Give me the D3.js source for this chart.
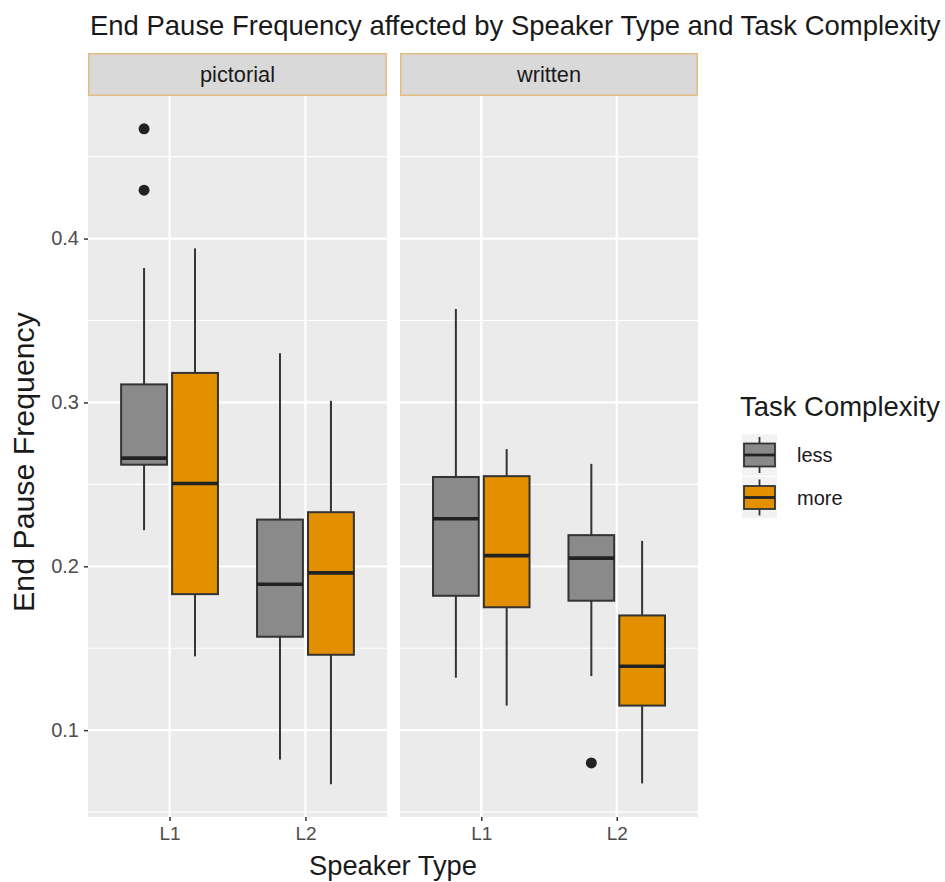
<!DOCTYPE html>
<html><head><meta charset="utf-8">
<script src="https://cdn.jsdelivr.net/npm/d3@7"></script>
<style>body{margin:0;background:#fff}svg{display:block}text{font-family:"Liberation Sans",Arial,sans-serif}</style>
</head><body><svg id="c" width="945" height="882"></svg>
<script>
// ---- data ----
const tasks = ["pictorial", "written"];
const speakers = ["L1", "L2"];
const complexity = ["less", "more"];
// groups ordered: task × speaker × complexity
const groupTask = ["pictorial","pictorial","pictorial","pictorial","written","written","written","written"];
const groupSpeaker = ["L1","L1","L2","L2","L1","L1","L2","L2"];
const groupComplexity = ["less","more","less","more","less","more","less","more"];
const whiskerLow  = [0.222, 0.145, 0.082, 0.067, 0.132, 0.115, 0.133, 0.0675];
const q1          = [0.262, 0.183, 0.157, 0.146, 0.182, 0.175, 0.179, 0.115];
const median      = [0.266, 0.2505, 0.189, 0.196, 0.229, 0.2065, 0.205, 0.139];
const q3          = [0.311, 0.318, 0.2285, 0.233, 0.2545, 0.255, 0.219, 0.170];
const whiskerHigh = [0.382, 0.394, 0.330, 0.301, 0.357, 0.2715, 0.2625, 0.2155];
const outlierGroup = [0, 0, 6];
const outlierValue = [0.467, 0.4295, 0.080];
const yTicks = [0.1, 0.2, 0.3, 0.4];
const yMinor = [0.05, 0.15, 0.25, 0.35, 0.45];

// ---- layout ----
const svg = d3.select("#c");
const panelTop = 96, panelBottom = 817, stripTop = 53;
const panelX = {pictorial: [88, 387], written: [400, 698]};
const fill = {less: "#8a8a8a", more: "#e39000"};
const y = d3.scaleLinear().domain([0.047, 0.487]).range([panelBottom, panelTop]);
const color = d3.scaleOrdinal().domain(complexity).range([fill.less, fill.more]);

function fitText(sel, w) {
  const cur = sel.node().getComputedTextLength();
  const fs = parseFloat(sel.attr("font-size"));
  sel.attr("font-size", fs * w / cur);
}

tasks.forEach(task => {
  const [x0, x1] = panelX[task];
  const x = d3.scalePoint().domain(speakers).range([x0, x1]).padding(0.6);
  const step = x.step();
  const dodge = d3.scaleBand().domain(complexity).range([-step*0.375, step*0.375]);
  const bw = step * 0.3375;
  const g = svg.append("g");
  g.append("rect").attr("x", x0).attr("y", panelTop).attr("width", x1 - x0).attr("height", panelBottom - panelTop).attr("fill", "#ebebeb");
  // strip
  g.append("rect").attr("x", x0 + 0.75).attr("y", stripTop + 0.75).attr("width", x1 - x0 - 1.5).attr("height", panelTop - stripTop - 1.5)
    .attr("fill", "#d9d9d9").attr("stroke", "#e3bd82").attr("stroke-width", 1.5);
  const st = g.append("text").attr("x", (x0 + x1) / 2).attr("y", 82).attr("text-anchor", "middle").attr("font-size", 19).attr("fill", "#1a1a1a").text(task);
  if (task === "pictorial") fitText(st, 75); else st.attr("font-size", d3.select("g text").attr("font-size"));
  // grid
  g.selectAll(".minor").data(yMinor).join("line").attr("x1", x0).attr("x2", x1).attr("y1", d => y(d)).attr("y2", d => y(d)).attr("stroke", "#fff").attr("stroke-width", 1.1);
  g.selectAll(".major").data(yTicks).join("line").attr("x1", x0).attr("x2", x1).attr("y1", d => y(d)).attr("y2", d => y(d)).attr("stroke", "#fff").attr("stroke-width", 2.2);
  g.selectAll(".vmajor").data(speakers).join("line").attr("x1", d => x(d)).attr("x2", d => x(d)).attr("y1", panelTop).attr("y2", panelBottom).attr("stroke", "#fff").attr("stroke-width", 2.2);
  // x axis
  const xa = g.append("g").attr("transform", `translate(0,${panelBottom})`).call(d3.axisBottom(x).tickSize(4).tickPadding(6));
  xa.select(".domain").remove();
  xa.selectAll("line").attr("stroke", "#333").attr("stroke-width", 1.5);
  xa.selectAll("text").attr("font-size", 19).attr("fill", "#4d4d4d").attr("font-family", "Liberation Sans, Arial, sans-serif");
  // boxes
  const idx = d3.range(groupTask.length).filter(i => groupTask[i] === task);
  idx.forEach(i => {
    const cx = x(groupSpeaker[i]) + dodge(groupComplexity[i]) + dodge.bandwidth() / 2;
    const bg = g.append("g");
    bg.append("line").attr("x1", cx).attr("x2", cx).attr("y1", y(q3[i])).attr("y2", y(whiskerHigh[i])).attr("stroke", "#333").attr("stroke-width", 2);
    bg.append("line").attr("x1", cx).attr("x2", cx).attr("y1", y(q1[i])).attr("y2", y(whiskerLow[i])).attr("stroke", "#333").attr("stroke-width", 2);
    bg.append("rect").attr("x", cx - bw / 2).attr("y", y(q3[i])).attr("width", bw).attr("height", y(q1[i]) - y(q3[i]))
      .attr("fill", color(groupComplexity[i])).attr("stroke", "#333").attr("stroke-width", 2);
    bg.append("line").attr("x1", cx - bw / 2).attr("x2", cx + bw / 2).attr("y1", y(median[i])).attr("y2", y(median[i])).attr("stroke", "#222").attr("stroke-width", 3.6);
    outlierGroup.forEach((og, k) => {
      if (og === i) bg.append("circle").attr("cx", cx).attr("cy", y(outlierValue[k])).attr("r", 5.5).attr("fill", "#222");
    });
  });
  if (task === "pictorial") {
    const ya = g.append("g").attr("transform", `translate(${x0},0)`).call(d3.axisLeft(y).tickValues(yTicks).tickFormat(d3.format(".1f")).tickSize(4).tickPadding(5));
    ya.select(".domain").remove();
    ya.selectAll("line").attr("stroke", "#333").attr("stroke-width", 1.5);
    ya.selectAll("text").attr("font-size", 20).attr("fill", "#4d4d4d").attr("font-family", "Liberation Sans, Arial, sans-serif");
  }
});

// titles
const title = svg.append("text").attr("x", 90).attr("y", 35).attr("font-size", 24).attr("fill", "#1a1a1a")
  .text("End Pause Frequency affected by Speaker Type and Task Complexity");
fitText(title, 851);
const xt = svg.append("text").attr("x", 393).attr("y", 875).attr("text-anchor", "middle").attr("font-size", 24).attr("fill", "#1a1a1a").text("Speaker Type");
fitText(xt, 168);
const yt = svg.append("text").attr("transform", "translate(34,462) rotate(-90)").attr("text-anchor", "middle").attr("font-size", 24).attr("fill", "#1a1a1a").text("End Pause Frequency");
fitText(yt, 300);

// legend
const lg = svg.append("g");
const lt = lg.append("text").attr("x", 740).attr("y", 416).attr("font-size", 24).attr("fill", "#1a1a1a").text("Task Complexity");
fitText(lt, 200);
complexity.forEach((c, k) => {
  const cy = 455 + k * 42.5;
  const kx = 742, kw = 35, kh = 41;
  lg.append("rect").attr("x", kx).attr("y", cy - kh / 2).attr("width", kw).attr("height", kh).attr("fill", "#f2f2f2");
  lg.append("line").attr("x1", kx + kw / 2).attr("x2", kx + kw / 2).attr("y1", cy - 18).attr("y2", cy + 18).attr("stroke", "#333").attr("stroke-width", 1.8);
  lg.append("rect").attr("x", kx + 2).attr("y", cy - 11.5).attr("width", kw - 4).attr("height", 23).attr("fill", color(c)).attr("stroke", "#333").attr("stroke-width", 1.8);
  lg.append("line").attr("x1", kx + 2).attr("x2", kx + kw - 2).attr("y1", cy).attr("y2", cy).attr("stroke", "#222").attr("stroke-width", 2.8);
  lg.append("text").attr("x", 797).attr("y", cy + 7).attr("font-size", 20).attr("fill", "#1a1a1a").text(c);
});
</script></body></html>
